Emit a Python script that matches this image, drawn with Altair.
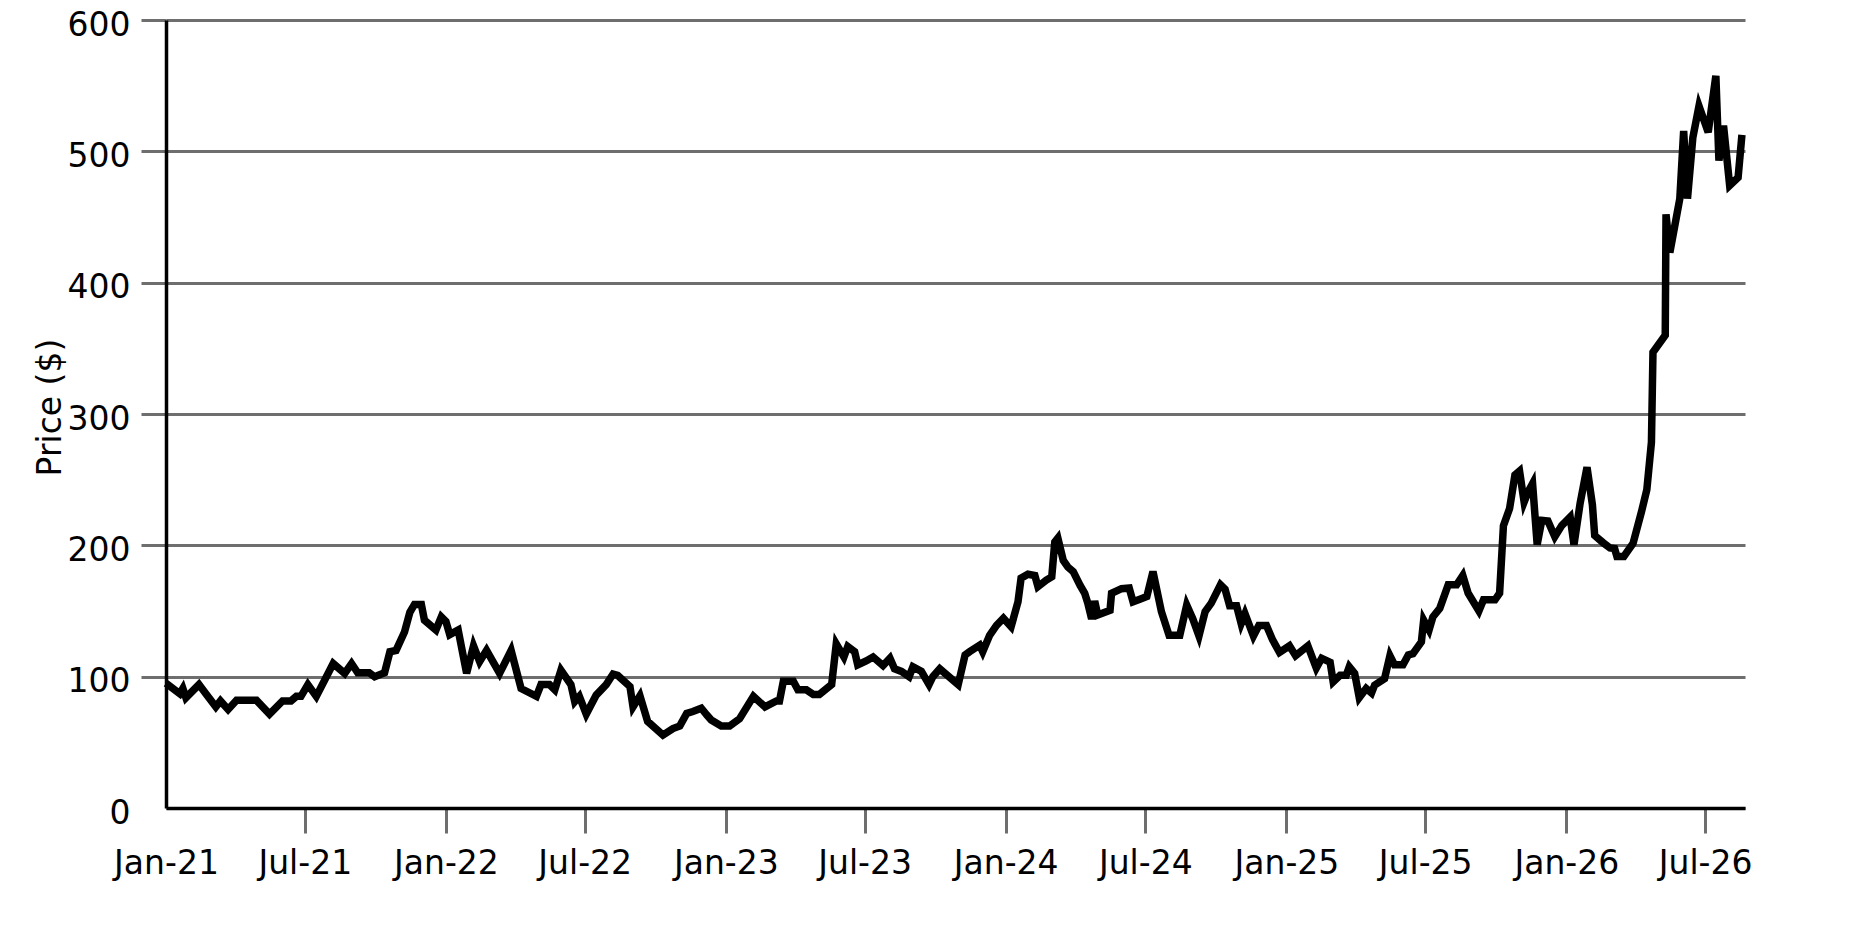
import pandas as pd
import altair as alt

# Weekly-ish closing prices (days counted from 2021-01-01)
days = [
    0, 18, 22, 26, 43, 52, 65, 71, 81, 92, 118, 135, 152, 163, 170, 176, 185, 196, 218, 233,
    242, 250, 265, 272, 285, 292, 300, 311, 318, 324, 333,
    337, 352, 359, 365, 370, 381, 392, 401, 409, 418, 435, 450, 463, 483, 489, 500, 507, 515, 528, 533,
    539, 548, 561, 574, 583, 589, 605, 609, 618, 628, 648, 661, 670,
    679, 687, 698, 705, 711, 724, 735, 748, 766, 781, 796, 800, 805, 818, 824, 835, 844, 852, 868, 874,
    884, 889, 898, 902, 913, 922, 935, 944, 950, 959, 969, 974, 985, 995, 1000, 1009,
    1033, 1042, 1048, 1061, 1065, 1074, 1083, 1092, 1102, 1111, 1115, 1124, 1133, 1137, 1148, 1155, 1159, 1163, 1170, 1176,
    1183, 1192, 1198, 1202, 1207, 1211, 1215, 1231, 1233, 1246, 1256, 1261, 1270, 1279, 1287, 1298, 1308, 1322, 1331, 1339,
    1347, 1355,
    1363, 1375, 1381, 1387, 1396, 1402, 1407, 1418, 1425, 1435, 1443, 1452, 1465, 1473, 1489, 1500, 1507, 1518, 1522, 1531,
    1539, 1543, 1550, 1556, 1565, 1572, 1576, 1589, 1596, 1602, 1613, 1620, 1626, 1637, 1640, 1647, 1652, 1661, 1672, 1683,
    1691,
    1698, 1712, 1718, 1733, 1739, 1744, 1752, 1759, 1765, 1771, 1776, 1782, 1788, 1794, 1802, 1811, 1820, 1831, 1836, 1844,
    1853, 1860, 1863, 1874, 1883, 1889, 1892, 1901, 1913, 1924, 1931,
    1937, 1939, 1955, 1956, 1961, 1974, 1979, 1984, 1991, 1999, 2011, 2021, 2025, 2031, 2039, 2050, 2055,
]
prices = [
    95, 87, 91, 84, 94, 87, 77, 81.5, 75, 82, 82, 71.5, 81.5, 81.5, 85, 85, 94, 85, 110, 102.5,
    110, 103, 103, 100, 103, 119, 120, 134, 149, 155, 155,
    143, 135.5, 145.5, 142, 132, 135.5, 102.5, 123.5, 111.5, 120, 102.5, 120, 91, 85, 94, 94, 90, 105, 94, 81,
    85, 71.5, 86, 94, 102, 101, 92.5, 77, 85.5, 66, 55.5, 60.5, 62.5,
    72, 73.5, 76, 71, 67, 62.5, 62.5, 68, 85, 77, 81.5, 81.5, 96.5, 96.5, 90, 90, 86.5, 86.5, 94, 125,
    115, 123, 119, 109, 112, 115, 108.5, 114, 106, 104, 100, 107.5, 104, 94, 100, 106,
    94, 116.5, 119, 124, 119, 131.5, 139, 144.5, 138, 157, 175, 178, 177, 168.5, 173.5, 176, 202.5, 205.5, 188.5, 183.5,
    180, 169.5, 163.5, 156, 144, 157.5, 147, 150.5, 163.5, 167, 167.5, 157, 159, 161, 180, 149.5, 131.5, 131.5, 154.5, 144,
    131, 149.5,
    156, 170, 166.5, 154, 154, 140.5, 148, 131, 139, 139, 128, 118.5, 123.5, 116, 123.5, 106.5, 114, 111, 96, 101,
    101, 107.5, 102.5, 84, 91, 87.5, 93.5, 98.5, 116, 109, 109, 116.5, 117.5, 126.5, 143, 135.5, 145.5, 152, 170, 170,
    177,
    163.5, 150, 158.5, 158.5, 163.5, 215, 228, 253.5, 256.5, 233, 240.5, 247, 200.5, 219, 218.5, 206.5, 215, 221.5, 200.5, 232,
    259.5, 231, 207.5, 202, 198, 197.5, 191.5, 191.5, 201.5, 225.5, 242.5,
    278.5, 347, 360, 452, 423, 464, 515.5, 464, 510.5, 534.5, 514.5, 557.5, 493, 519.5, 474, 480, 512.5,
]

# Axis ticks: every January and July
tick_years = [2021, 2022, 2023, 2024, 2025, 2026]
tick_months = [1, 7]
price_ticks = [0, 100, 200, 300, 400, 500, 600]

df = pd.DataFrame({
    "date": pd.Timestamp("2021-01-01") + pd.to_timedelta(days, unit="D"),
    "price": prices,
})

tick_dates = [alt.DateTime(year=y, month=m, date=1) for y in tick_years for m in tick_months]

GRAY = "#6e6e6e"
FONT = "DejaVu Sans"

chart = alt.Chart(df).mark_line(color="black", strokeWidth=7.5, strokeJoin="miter").encode(
    x=alt.X(
        "date:T",
        title=None,
        scale=alt.Scale(
            domain=[alt.DateTime(year=2021, month=1, date=1), alt.DateTime(year=2026, month=8, date=22)],
            nice=False,
        ),
        axis=alt.Axis(
            values=tick_dates,
            format="%b-%y",
            grid=False,
            domainColor="black",
            domainWidth=3.5,
            tickColor=GRAY,
            tickWidth=3,
            tickSize=25,
            tickOpacity={"condition": {"test": "datum.index == 0", "value": 0}, "value": 1},
            labelPadding=14,
            labelFont=FONT,
            labelFontSize=33,
            labelColor="black",
            labelFlush=False,
            labelOverlap=False,
        ),
    ),
    y=alt.Y(
        "price:Q",
        title="Price ($)",
        scale=alt.Scale(domain=[0, 600], nice=False),
        axis=alt.Axis(
            values=price_ticks,
            grid=True,
            gridColor=GRAY,
            gridWidth=3,
            domainColor="black",
            domainWidth=3.5,
            tickColor=GRAY,
            tickWidth=3,
            tickSize=25,
            tickOpacity={"condition": {"test": "datum.value == 0", "value": 0}, "value": 1},
            labelPadding=11,
            labelOffset=5,
            labelFont=FONT,
            labelFontSize=33,
            labelColor="black",
            labelFlush=False,
            titleFont=FONT,
            titleFontSize=33,
            titleFontWeight="normal",
            titleColor="black",
            titleAngle=270,
            titleAlign="center",
            titleBaseline="alphabetic",
            titleX=-106,
            titleY=387,
        ),
    ),
).properties(
    width=1579,
    height=788,
    padding={"left": 158, "top": 12, "right": 100, "bottom": 80},
    autosize=alt.AutoSizeParams(type="none"),
    background="white",
).configure_view(
    stroke=None
)

chart.save("out.html", embed_options={"renderer": "svg", "actions": False})
